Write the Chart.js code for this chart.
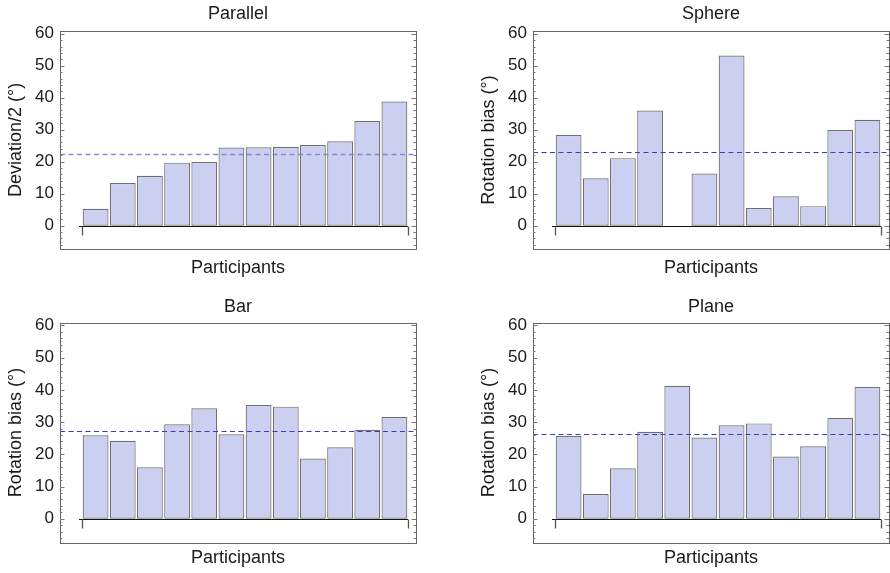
<!DOCTYPE html>
<html>
<head>
<meta charset="utf-8">
<script src="https://cdn.jsdelivr.net/npm/chart.js@4"></script>
<style>
  body { margin: 0; background: #fff; }
  #wrap { position: relative; width: 890px; height: 573px; }
  canvas { position: absolute; }
</style>
</head>
<body>
<div id="wrap">
  <canvas id="parallelChart" style="left:0;top:0" width="445" height="290"></canvas>
  <canvas id="sphereChart" style="left:445px;top:0" width="445" height="290"></canvas>
  <canvas id="barChart" style="left:0;top:290px" width="445" height="283"></canvas>
  <canvas id="planeChart" style="left:445px;top:290px" width="445" height="283"></canvas>
</div>
<script>
const participants = [1, 2, 3, 4, 5, 6, 7, 8, 9, 10, 11, 12];
const yTicks = [0, 10, 20, 30, 40, 50, 60];

const parallelValues = [5.3, 13.3, 15.6, 19.7, 19.9, 24.4, 24.5, 24.6, 25.2, 26.4, 32.7, 38.8];
const sphereValues = [28.3, 14.8, 21.1, 36.0, null, 16.3, 53.2, 5.5, 9.2, 6.1, 29.9, 33.1];
const barValues = [25.9, 24.2, 16.0, 29.3, 34.3, 26.2, 35.3, 34.8, 18.7, 22.2, 27.6, 31.6];
const planeValues = [25.7, 7.7, 15.7, 27.0, 41.3, 25.2, 29.0, 29.6, 19.3, 22.5, 31.3, 40.9];

const FONT = "'Liberation Sans', Arial, sans-serif";

function mean(arr) {
  const v = arr.filter(x => x !== null);
  return v.reduce((a, b) => a + b, 0) / v.length;
}

// frame, inward ticks, zero axis and mean line
const framePlugin = {
  id: "frame",
  afterDatasetsDraw(chart, args, opts) {
    const { ctx, chartArea: a, scales: { x, y } } = chart;
    ctx.save();
    // zero axis with end markers
    const y0 = Math.round(y.getPixelForValue(0)) + 0.5;
    ctx.strokeStyle = "#111";
    ctx.lineWidth = 1;
    ctx.beginPath();
    ctx.moveTo(x.getPixelForValue(0.39), y0);
    ctx.lineTo(x.getPixelForValue(12.5), y0);
    ctx.stroke();
    ctx.strokeStyle = "#555";
    ctx.lineWidth = 1.3;
    [0.5, 12.5].forEach(v => {
      const px = Math.round(x.getPixelForValue(v)) + 0.5;
      ctx.beginPath();
      ctx.moveTo(px, y0);
      ctx.lineTo(px, y0 + 9);
      ctx.stroke();
    });
    // mean line
    ctx.strokeStyle = opts.meanColor;
    ctx.lineWidth = opts.meanWidth;
    ctx.setLineDash([5, 3.5]);
    const ym = Math.round(y.getPixelForValue(opts.mean)) + 0.5;
    ctx.beginPath();
    ctx.moveTo(a.left, ym);
    ctx.lineTo(a.right, ym);
    ctx.stroke();
    ctx.setLineDash([]);
    // frame
    ctx.strokeStyle = "#666";
    ctx.lineWidth = 1;
    ctx.strokeRect(Math.round(a.left) + 0.5, Math.round(a.top) + 0.5,
      Math.round(a.right - a.left), Math.round(a.bottom - a.top));
    // ticks on left and right edges, pointing inward
    ctx.strokeStyle = "#777";
    for (let v = -6; v <= 60; v += 2) {
      const py = Math.round(y.getPixelForValue(v)) + 0.5;
      const len = v % 10 === 0 ? 4.5 : 2.5;
      ctx.beginPath();
      ctx.moveTo(a.left, py);
      ctx.lineTo(a.left + len, py);
      ctx.moveTo(a.right, py);
      ctx.lineTo(a.right - len, py);
      ctx.stroke();
    }
    ctx.restore();
  },
};

function makeChart(id, title, yLabel, values, cfg) {
  new Chart(document.getElementById(id), {
    type: "bar",
    data: {
      labels: participants,
      datasets: [
        {
          data: values,
          backgroundColor: "rgb(204,208,240)",
          borderColor: "#707070",
          borderWidth: 1.2,
          borderSkipped: false,
          barPercentage: 0.95,
          categoryPercentage: 1,
        },
      ],
    },
    options: {
      responsive: false,
      animation: false,
      layout: { padding: { left: 0, right: cfg.padRight, top: 0, bottom: 0 } },
      plugins: {
        legend: { display: false },
        tooltip: { enabled: false },
        title: {
          display: true,
          fullSize: false,
          text: title,
          color: "#1a1a1a",
          font: { family: FONT, size: 18, weight: "normal", lineHeight: 1.2 },
          padding: { top: cfg.titleTop, bottom: cfg.titleBottom },
        },
        frame: { mean: mean(values), meanColor: cfg.meanColor, meanWidth: cfg.meanWidth },
      },
      scales: {
        x: {
          type: "linear",
          offset: false,
          min: -0.31,
          max: 12.794,
          ticks: { display: false },
          grid: { display: false, drawTicks: false, offset: false },
          border: { display: false },
          title: {
            display: true,
            text: "Participants",
            color: "#1a1a1a",
            font: { family: FONT, size: 18, lineHeight: 1.2 },
            padding: { top: 0, bottom: cfg.xTitleBottom },
          },
          afterFit: s => { s.height = cfg.xHeight; },
        },
        y: {
          min: -7.3,
          max: 60.85,
          afterBuildTicks: s => { s.ticks = yTicks.map(v => ({ value: v })); },
          ticks: {
            color: "#1a1a1a",
            padding: 6,
            font: { family: FONT, size: 17 },
          },
          grid: { display: false, drawTicks: false, tickLength: 0 },
          border: { display: false },
          title: {
            display: true,
            text: yLabel,
            color: "#1a1a1a",
            font: { family: FONT, size: 18, lineHeight: 1.2 },
            padding: { top: cfg.yTitleTop, bottom: 0 },
          },
          afterFit: s => { s.width = cfg.yWidth; },
        },
      },
    },
    plugins: [framePlugin],
  });
}

const topLeft = { padRight: 29, yWidth: 60, yTitleTop: 5.2, titleTop: 3.7, titleBottom: 5.7, xHeight: 41, xTitleBottom: 11.4 };
const topRight = { padRight: 1, yWidth: 88, yTitleTop: 33.2, titleTop: 3.7, titleBottom: 5.7, xHeight: 41, xTitleBottom: 11.4 };
const botLeft = { padRight: 29, yWidth: 60, yTitleTop: 5.2, titleTop: 5.9, titleBottom: 5.2, xHeight: 30.7, xTitleBottom: 4.4 };
const botRight = { padRight: 1, yWidth: 88, yTitleTop: 33.2, titleTop: 5.9, titleBottom: 5.2, xHeight: 30.7, xTitleBottom: 4.4 };

makeChart("parallelChart", "Parallel", "Deviation/2 (°)", parallelValues,
  Object.assign({ meanColor: "rgba(120,120,205,0.85)", meanWidth: 1.6 }, topLeft));
makeChart("sphereChart", "Sphere", "Rotation bias (°)", sphereValues,
  Object.assign({ meanColor: "rgb(60,60,190)", meanWidth: 1 }, topRight));
makeChart("barChart", "Bar", "Rotation bias (°)", barValues,
  Object.assign({ meanColor: "rgb(60,60,190)", meanWidth: 1 }, botLeft));
makeChart("planeChart", "Plane", "Rotation bias (°)", planeValues,
  Object.assign({ meanColor: "rgb(60,60,190)", meanWidth: 1 }, botRight));
</script>
</body>
</html>
